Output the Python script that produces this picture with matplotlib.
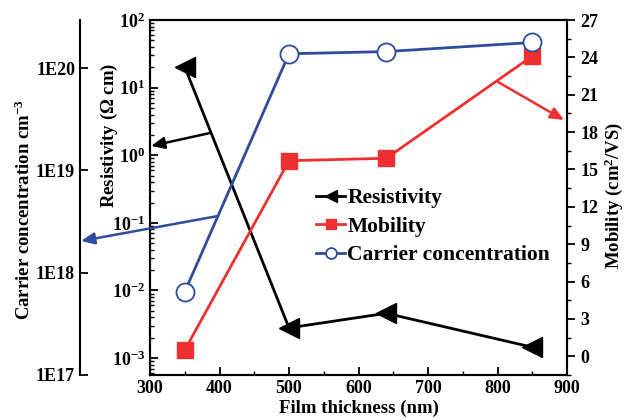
import numpy as np
import matplotlib
matplotlib.use("Agg")
from matplotlib import pyplot as plt
from matplotlib.ticker import FixedLocator, FuncFormatter, MultipleLocator, LogLocator, NullLocator, NullFormatter

plt.rcParams['font.family'] = ['Liberation Serif', 'DejaVu Serif']
plt.rcParams['font.weight'] = 'bold'
plt.rcParams['mathtext.fontset'] = 'custom'
plt.rcParams['mathtext.rm'] = 'Liberation Serif:bold'
plt.rcParams['mathtext.bf'] = 'Liberation Serif:bold'
plt.rcParams['mathtext.it'] = 'Liberation Serif:bold'

# data
thickness = [350, 500, 640, 850]
resistivity = [20.2, 2.8e-3, 4.6e-3, 1.45e-3]
mobility = [0.5, 15.7, 15.9, 24.1]
carrier = [6.5e17, 1.38e20, 1.45e20, 1.78e20]

black = 'black'
red = '#EE3030'
blue = '#2E4C9E'

fig = plt.figure(figsize=(6.27, 4.2), dpi=100)
ax = fig.add_axes([150/627, 1-375/420, 417/627, 355/420])
ax2 = ax.twinx()
ax3 = ax.twinx()

l1, = ax.plot(thickness, resistivity, color=black, lw=2, marker='<', ms=14,
              mfc=black, mec=black, label='Resistivity')
l2, = ax2.plot(thickness, mobility, color=red, lw=2, marker='s', ms=11,
               mfc=red, mec=red, label='Mobility')
l3, = ax3.plot(thickness, carrier, color=blue, lw=2, marker='o', ms=13,
               mfc='white', mec=blue, mew=1.3, label='Carrier concentration')

# x axis
ax.set_xlim(300, 900)
ax.xaxis.set_major_locator(MultipleLocator(100))
ax.xaxis.set_minor_locator(MultipleLocator(50))
ax.set_xlabel('Film thickness (nm)', fontsize=13.5, fontweight='bold', labelpad=2)

# resistivity axis
ax.set_yscale('log')
ax.set_ylim(10**-3.25, 1e2)
ax.yaxis.set_major_locator(FixedLocator([1e-3, 1e-2, 1e-1, 1e0, 1e1, 1e2]))
ax.yaxis.set_major_formatter(FuncFormatter(lambda v, p: r'$10^{%d}$' % round(np.log10(v))))
ax.yaxis.set_minor_locator(LogLocator(base=10, subs=np.arange(2, 10), numticks=20))
ax.yaxis.set_minor_formatter(NullFormatter())
ax.set_ylabel(r'Resistivity ($\Omega$ cm)', fontsize=13.5, fontweight='bold')
ax.yaxis.set_label_coords(-0.073, 0.675)
ax.tick_params(axis='both', which='major', direction='in', length=6, width=1.3,
               labelsize=13, top=False, right=False)
ax.tick_params(axis='both', which='minor', direction='in', length=3, width=1,
               top=False, right=False)

# mobility axis
ax2.set_ylim(-1.5, 27)
ax2.yaxis.set_major_locator(MultipleLocator(3))
ax2.yaxis.set_minor_locator(MultipleLocator(1.5))
ax2.tick_params(axis='y', which='major', direction='out', length=6, width=1.3, labelsize=13)
ax2.tick_params(axis='y', which='minor', direction='out', length=3, width=1)
ax2.set_ylabel(r'Mobility (cm$^2$/VS)', fontsize=13.5, fontweight='bold')
ax2.yaxis.set_label_coords(1.084, 0.507)

# carrier concentration axis
ax3.set_yscale('log')
ax3.set_ylim(1e17, 10**20.47)
ax3.spines['left'].set_position(('axes', -70/417))
ax3.spines['left'].set_visible(True)
ax3.spines['right'].set_visible(False)
ax3.spines['top'].set_visible(False)
ax3.spines['bottom'].set_visible(False)
ax3.yaxis.set_ticks_position('left')
ax3.yaxis.set_label_position('left')
ax3.yaxis.set_major_locator(FixedLocator([1e17, 1e18, 1e19, 1e20]))
ax3.yaxis.set_major_formatter(FuncFormatter(lambda v, p: '1E%d' % round(np.log10(v))))
ax3.yaxis.set_minor_locator(NullLocator())
ax3.tick_params(axis='y', which='major', direction='in', length=6, width=1.3, labelsize=13)
ax3.set_ylabel(r'Carrier concentration cm$^{-3}$', fontsize=13.5, fontweight='bold')
ax3.yaxis.set_label_coords(-0.278, 0.465)

for a in (ax, ax2, ax3):
    for s in a.spines.values():
        s.set_linewidth(1.5)
    for t in a.get_xticklabels() + a.get_yticklabels():
        t.set_fontweight('bold')

# pointer arrows
def pointer(x0, y0, x1, y1, c):
    fig.add_artist(matplotlib.patches.FancyArrowPatch(
        (x0/627, 1-y0/420), (x1/627, 1-y1/420), transform=fig.transFigure,
        arrowstyle='-|>,head_length=8,head_width=3.5', color=c, lw=1.8,
        shrinkA=0, shrinkB=0))

pointer(210, 133, 151, 146, black)
pointer(218, 216, 81, 241, blue)
pointer(498, 82, 564, 120, red)

leg = ax3.legend(handles=[l1, l2, l3], loc='upper left',
                 bbox_to_anchor=(316/627, 1-188/420), bbox_transform=fig.transFigure,
                 frameon=False, fontsize=15.5, markerscale=0.6, handlelength=1.35,
                 handletextpad=0.1, labelspacing=0.4, borderpad=0, borderaxespad=0)
for t in leg.get_texts():
    t.set_fontweight('bold')

fig.savefig('out.png', dpi=100)
